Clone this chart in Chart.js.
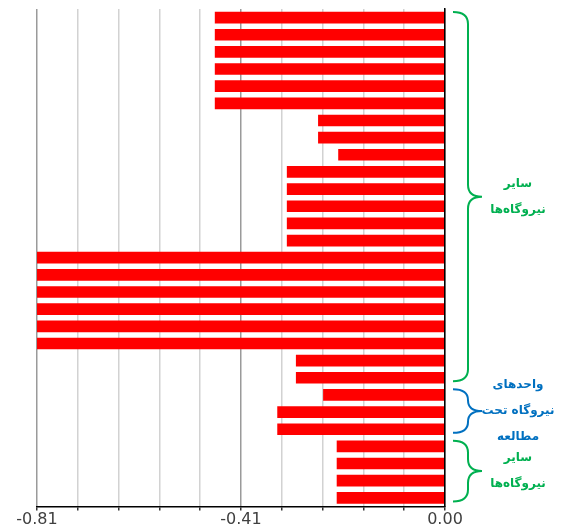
<!DOCTYPE html>
<html>
<head>
<meta charset="utf-8">
<script src="https://cdn.jsdelivr.net/npm/chart.js@4"></script>
<style>
  body { margin: 0; background: #fff; }
  #wrap { width: 561px; height: 530px; }
</style>
</head>
<body>
<div id="wrap"><canvas id="chart" width="561" height="530"></canvas></div>
<script>
// Units (top to bottom) and their values
const units = [
    'U01', 'U02', 'U03', 'U04', 'U05', 'U06', 'U07', 'U08', 'U09', 'U10',
    'U11', 'U12', 'U13', 'U14', 'U15', 'U16', 'U17', 'U18', 'U19', 'U20',
    'U21', 'U22', 'U23', 'U24', 'U25', 'U26', 'U27', 'U28', 'U29'
];
const values = [
    -0.457, -0.457, -0.457, -0.457, -0.457, -0.457,
    -0.252, -0.252, -0.212,
    -0.314, -0.314, -0.314, -0.314, -0.314,
    -0.81, -0.81, -0.81, -0.81, -0.81, -0.81,
    -0.296, -0.296,
    -0.242, -0.333, -0.333,
    -0.215, -0.215, -0.215, -0.215
];

// x axis grid positions and the labels shown under them
const gridValues = [-0.81, -0.729, -0.648, -0.567, -0.486, -0.405, -0.324, -0.243, -0.162, -0.081, 0];
const tickLabels = ['-0.81', '', '', '', '', '-0.41', '', '', '', '', '0.00'];

// Bracket groups on the right (index ranges into units)
const groupStart = [0, 22, 25];
const groupEnd = [21, 24, 28];
const groupText = [
    ['سایر', 'نیروگاه‌ها'],
    ['واحدهای', 'نیروگاه تحت', 'مطالعه'],
    ['سایر', 'نیروگاه‌ها']
];
const groupColor = ['#00b050', '#0070c0', '#00b050'];

const bracketPlugin = {
    id: 'brackets',
    afterDraw(chart) {
        const ctx = chart.ctx;
        const y = chart.scales.y;
        const half = (y.getPixelForValue(1) - y.getPixelForValue(0)) / 2;
        const x0 = 453, x1 = 468, xt = 482;

        groupStart.forEach((start, i) => {
            const top = y.getPixelForValue(start) - half + 3;
            const bottom = y.getPixelForValue(groupEnd[i]) + half - 5;
            const mid = (top + bottom) / 2;
            const r = Math.min(12, (bottom - top) / 4);

            ctx.save();
            ctx.strokeStyle = groupColor[i];
            ctx.lineWidth = 2;
            ctx.beginPath();
            ctx.moveTo(x0, top);
            ctx.quadraticCurveTo(x1, top, x1, top + r);
            ctx.lineTo(x1, mid - r);
            ctx.quadraticCurveTo(x1, mid, xt, mid);
            ctx.quadraticCurveTo(x1, mid, x1, mid + r);
            ctx.lineTo(x1, bottom - r);
            ctx.quadraticCurveTo(x1, bottom, x0, bottom);
            ctx.stroke();

            // label lines
            const lines = groupText[i];
            const lineH = 26;
            ctx.fillStyle = groupColor[i];
            ctx.font = 'bold 12px "DejaVu Sans"';
            ctx.textAlign = 'center';
            ctx.textBaseline = 'middle';
            ctx.direction = 'rtl';
            const startY = mid - (lines.length - 1) * lineH / 2;
            lines.forEach((t, k) => ctx.fillText(t, 518, startY + k * lineH));
            ctx.restore();
        });
    }
};

const ctx = document.getElementById('chart').getContext('2d');
new Chart(ctx, {
    type: 'bar',
    data: {
        labels: units,
        datasets: [{
            data: values,
            backgroundColor: '#ff0000',
            borderWidth: 0,
            barPercentage: 0.8,
            categoryPercentage: 0.85
        }]
    },
    options: {
        indexAxis: 'y',
        responsive: false,
        animation: false,
        layout: { padding: { left: 37, right: 116, top: 9, bottom: 0 } },
        plugins: {
            legend: { display: false },
            tooltip: { enabled: false }
        },
        scales: {
            x: {
                min: -0.81,
                max: 0,
                afterBuildTicks: axis => {
                    axis.ticks = gridValues.map(v => ({ value: v }));
                },
                ticks: {
                    autoSkip: false,
                    maxRotation: 0,
                    padding: 1,
                    color: '#404040',
                    font: { family: '"DejaVu Sans"', size: 16, lineHeight: 1.1 },
                    callback: (value, index) => tickLabels[index]
                },
                grid: {
                    color: c => (tickLabels[c.index] ? '#9a9a9a' : '#d2d2d2'),
                    lineWidth: 1.5,
                    tickLength: 4,
                    tickColor: '#333'
                },
                border: { display: true, color: '#000', width: 1.5, z: 1 }
            },
            y: {
                position: 'right',
                ticks: { display: false },
                grid: { display: false, drawTicks: false },
                border: { display: true, color: '#000', width: 1.5, z: 1 }
            }
        }
    },
    plugins: [bracketPlugin]
});
</script>
</body>
</html>
